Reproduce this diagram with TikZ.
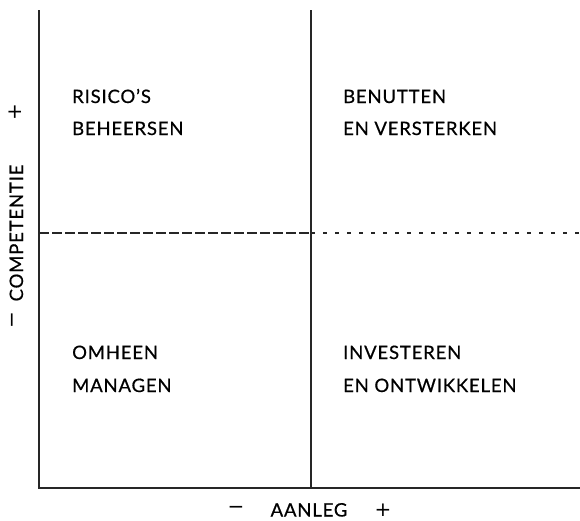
\documentclass[tikz,border=0pt]{standalone}
\usepackage{fontspec}
\setmainfont{Lato}[LetterSpace=4.5,FakeBold=0.6]
\newfontfamily\symfont{DejaVu Sans}
\begin{document}
\begin{tikzpicture}[x=1pt,y=-1pt,
  axis/.style={line width=1.2pt,draw=black!85},
  lbl/.style={anchor=base west,inner sep=0pt,font=\fontsize{18.5}{20}\selectfont,text=black},
  axlbl/.style={inner sep=0pt,font=\fontsize{18.5}{20}\selectfont,text=black},
  sym/.style={inner sep=0pt,font=\symfont\fontsize{20}{22}\selectfont,text=black}]
\useasboundingbox (0,0) rectangle (580,520);
\coordinate (tl) at (39,10);
\coordinate (bl) at (39,488);
\coordinate (br) at (580,488);
\coordinate (mt) at (311,10);
\coordinate (mb) at (311,488);
\coordinate (dl) at (39,233);
\coordinate (dm) at (311,233);
\coordinate (dr) at (580,233);
\draw[axis] (tl) -- (bl) -- (br);
\draw[axis] (mt) -- (mb);
\draw[line width=1.1pt,draw=black!85,dash pattern=on 10pt off 3pt] (dl) -- (dm);
\draw[line width=1.1pt,draw=black!85,dash pattern=on 4pt off 8pt] (dm) -- (dr);
\node[lbl] (q1a) at (72,103) {RISICO’S};
\node[lbl] (q1b) at (72,135) {BEHEERSEN};
\node[lbl] (q2a) at (343,103) {BENUTTEN};
\node[lbl] (q2b) at (343,135) {EN VERSTERKEN};
\node[lbl] (q3a) at (72,359) {OMHEEN};
\node[lbl] (q3b) at (72,392) {MANAGEN};
\node[lbl] (q4a) at (343,359) {INVESTEREN};
\node[lbl] (q4b) at (343,392) {EN ONTWIKKELEN};
\node[axlbl,anchor=base] (xl) at (309,516.5) {AANLEG};
\node[sym] (xm) at (236,510) {−};
\node[sym] (xp) at (383,510) {+};
\node[axlbl,rotate=90,anchor=base] (yl) at (23,233) {COMPETENTIE};
\node[sym,rotate=90] (yp) at (15,112) {+};
\node[sym,rotate=90] (ym) at (15,320) {−};
\end{tikzpicture}
\end{document}
